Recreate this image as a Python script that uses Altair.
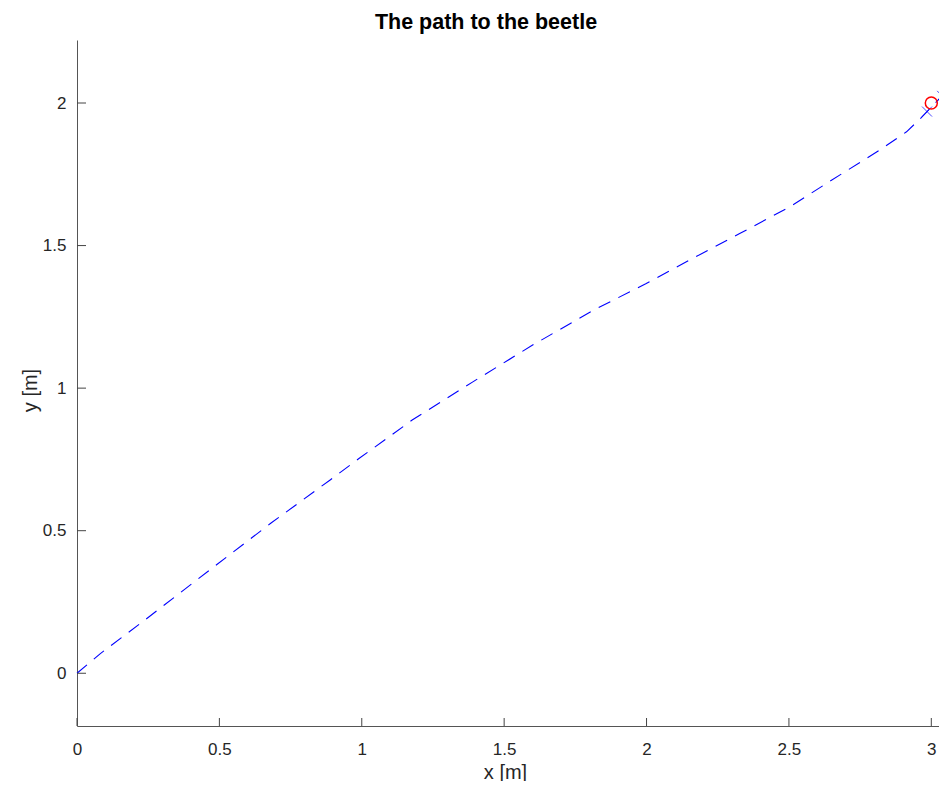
import altair as alt
import pandas as pd

# Path of the pursuer
path_x = [0, 0.082, 0.223, 0.48, 0.679, 0.889, 0.99, 1.177, 1.39, 1.6, 1.811, 1.999,
          2.151, 2.327, 2.503, 2.678, 2.819, 2.913, 2.959, 2.985, 3.038]
path_y = [0, 0.069, 0.175, 0.373, 0.525, 0.678, 0.753, 0.888, 1.022, 1.151, 1.272, 1.367,
          1.449, 1.542, 1.636, 1.747, 1.835, 1.899, 1.943, 1.970, 2.025]
# "x" markers
cross_x = [2.985, 3.038]
cross_y = [1.970, 2.025]
# beetle (red circle)
target_x = [3.0]
target_y = [2.0]
# ticks
x_ticks = [0, 0.5, 1, 1.5, 2, 2.5, 3]
y_ticks = [0, 0.5, 1, 1.5, 2]
x_domain = [0, 3.027]
y_domain = [-0.185, 2.221]

W, H = 862, 686
FONT = "Liberation Sans"
TXT = "#262626"

xs = alt.Scale(domain=x_domain, nice=False, zero=False)
ys = alt.Scale(domain=y_domain, nice=False, zero=False)

path_df = pd.DataFrame({"x": path_x, "y": path_y, "order": list(range(len(path_x)))})
cross_df = pd.DataFrame({"x": cross_x, "y": cross_y})
target_df = pd.DataFrame({"x": target_x, "y": target_y})
xt_df = pd.DataFrame({"x": x_ticks})
yt_df = pd.DataFrame({"y": y_ticks})

x_axis = alt.Axis(values=x_ticks, format="~g", titleX=428, titleY=52)
y_axis = alt.Axis(values=y_ticks, format="~g", titleX=-41, titleY=350, titleAngle=270)

X = alt.X("x:Q", scale=xs, axis=x_axis, title="x [m]")
Y = alt.Y("y:Q", scale=ys, axis=y_axis, title="y [m]")

line = alt.Chart(path_df).mark_line(
    color="#0000ff", strokeWidth=1.1, strokeDash=[13, 9]
).encode(x=X, y=Y, order="order:Q")

crosses = alt.Chart(cross_df).mark_point(
    shape="M-1,-1L1,1M-1,1L1,-1", filled=False, color="#0000ff", strokeWidth=1, size=100
).encode(x=X, y=Y)

target = alt.Chart(target_df).mark_point(
    shape="circle", filled=False, color="#ff0000", strokeWidth=1.5, size=144, opacity=1
).encode(x=X, y=Y)

xticks = alt.Chart(xt_df).mark_rule(color="#444444", strokeWidth=1).encode(
    x=X,
    y=alt.value(H),
    y2=alt.value(H - 8),
)
yticks = alt.Chart(yt_df).mark_rule(color="#444444", strokeWidth=1).encode(
    y=Y,
    x=alt.value(0),
    x2=alt.value(9),
)

chart = alt.layer(line, xticks, yticks, crosses, target).properties(
    width=W,
    height=H,
    title=alt.TitleParams(
        "The path to the beetle", font=FONT, fontSize=21.5, fontWeight="bold",
        color="black", anchor="middle", dx=-22, dy=19, offset=9, baseline="alphabetic",
        frame="group",
    ),
    autosize=alt.AutoSizeParams(type="none"),
    padding={"left": 69, "top": 32, "right": 0, "bottom": 55},
    background="white",
).configure_view(
    stroke=None
).configure_axis(
    ticks=False, grid=False, domainColor="#555555", domainWidth=1,
    labelFont=FONT, labelFontSize=17, labelColor=TXT, labelFlush=False,
    titleFont=FONT, titleFontSize=20, titleFontWeight="normal", titleColor=TXT,
    titleBaseline="alphabetic", titleAlign="center",
).configure_axisX(
    labelPadding=15
).configure_axisY(
    labelPadding=11
)

chart.save("out.html", embed_options={"renderer": "svg", "actions": False})
